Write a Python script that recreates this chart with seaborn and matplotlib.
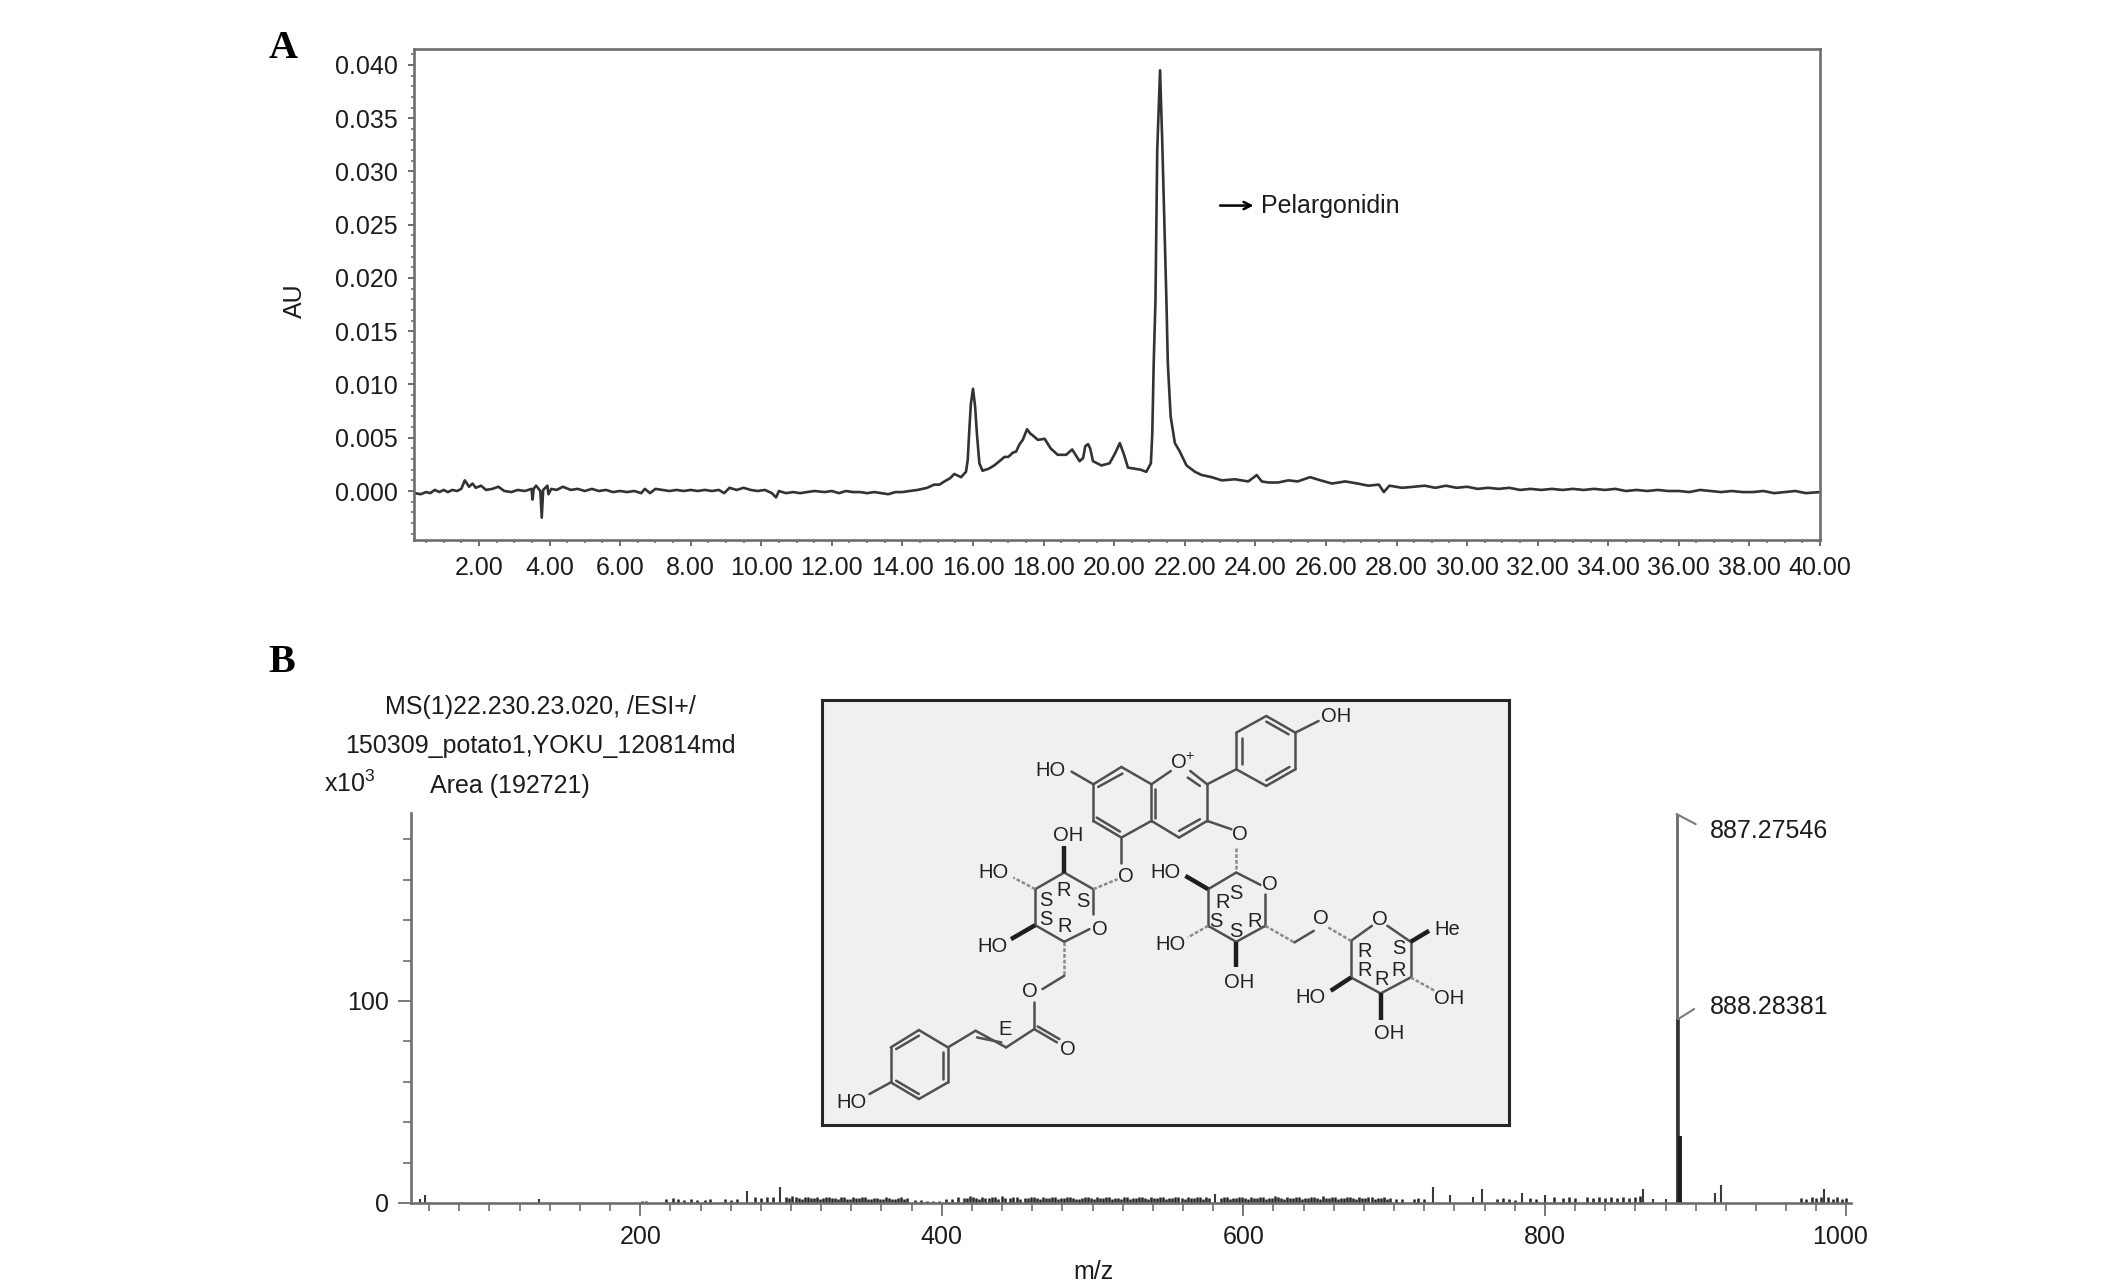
import matplotlib
matplotlib.use("Agg")
import matplotlib.pyplot as plt
from matplotlib.ticker import MultipleLocator, FixedLocator
from matplotlib.transforms import ScaledTranslation
import pandas as pd
import seaborn as sns

# chromatogram (panel A)
rt_min = [0.18, 0.35, 0.5, 0.62, 0.75, 0.88, 1.0, 1.12, 1.25, 1.38, 1.5, 1.6, 1.66, 1.72, 1.82, 1.91, 2.06, 2.2, 2.38, 2.55, 2.72, 2.92, 3.1, 3.3, 3.49, 3.52, 3.55, 3.62, 3.74, 3.78, 3.82, 3.94, 3.97, 4.05, 4.2, 4.38,
          4.6, 4.8, 5.0, 5.2, 5.4, 5.6, 5.8, 6.0, 6.2, 6.4, 6.6, 6.7, 6.85, 7.0, 7.2, 7.4, 7.6, 7.8, 8.0, 8.2, 8.4, 8.6, 8.8, 8.95, 9.1, 9.3, 9.5, 9.7, 9.9, 10.1, 10.3, 10.42, 10.5, 10.7, 10.9, 11.1, 11.3, 11.5, 11.8, 12.0, 12.2, 12.4, 12.6, 12.8, 13.0, 13.2, 13.4, 13.6, 13.8, 14.0, 14.2,
          14.43, 14.7, 14.9, 15.05, 15.19, 15.35, 15.47, 15.66, 15.8, 15.85, 15.9, 15.94, 16.0, 16.06, 16.11, 16.18, 16.27, 16.45, 16.6, 16.75, 16.89, 17.0, 17.13, 17.22, 17.32, 17.41, 17.53, 17.62, 17.7, 17.84, 18.03, 18.2, 18.4, 18.64, 18.81, 19.02, 19.12, 19.18, 19.26, 19.32, 19.4, 19.64, 19.87, 20.02, 20.16, 20.28, 20.39, 20.58, 20.75, 20.91, 21.04, 21.08, 21.12, 21.17, 21.22, 21.3, 21.36, 21.48, 21.52, 21.6, 21.72, 21.86, 22.05, 22.29, 22.48, 22.76, 23.05, 23.42, 23.8, 24.04, 24.18, 24.37, 24.65, 24.94, 25.2, 25.55, 25.85, 26.17, 26.55, 26.9, 27.2, 27.5, 27.64, 27.8, 28.16,
          28.5, 28.8, 29.1, 29.4, 29.7, 30.0, 30.3, 30.6, 30.9, 31.2, 31.5, 31.8, 32.1, 32.4, 32.7, 33.0, 33.3, 33.6, 33.9, 34.2, 34.5, 34.8, 35.1, 35.4, 35.7, 36.0, 36.3, 36.6, 36.9, 37.2, 37.5, 37.8, 38.1, 38.4, 38.7, 39.0, 39.3, 39.6, 40.0]
au = [-0.0002, -0.0003, -0.0001, -0.0002, 0.0001, -0.0001, 0.0001, -0.0001, 0.0001, 0.0, 0.0002, 0.0010, 0.0007, 0.0004, 0.0007, 0.0003, 0.0005, 0.0001, 0.0002, 0.0004, 0.0, -0.0001, 0.0001, 0.0, 0.0002, -0.0008, 0.0002, 0.0005, 0.0, -0.0025, 0.0001, 0.0005, -0.0003, 0.0002, 0.0001, 0.0004,
      0.0001, 0.0002, 0.0, 0.0002, 0.0, 0.0001, -0.0001, 0.0, -0.0001, 0.0, -0.0002, 0.0002, -0.0002, 0.0002, 0.0001, 0.0, 0.0001, 0.0, 0.0001, 0.0, 0.0001, 0.0, 0.0001, -0.0002, 0.0003, 0.0001, 0.0003, 0.0001, 0.0, 0.0001, -0.0002, -0.0006, 0.0, -0.0002, -0.0001, -0.0002, -0.0001, 0.0, -0.0001, 0.0, -0.0002, 0.0, -0.0001, -0.0001, -0.0002, -0.0001, -0.0002, -0.0003, -0.0001, -0.0001, 0.0,
      0.0001, 0.0003, 0.0006, 0.0006, 0.0009, 0.0012, 0.0016, 0.0013, 0.0018, 0.0029, 0.0060, 0.0082, 0.0096, 0.0079, 0.0054, 0.0026, 0.0019, 0.0021, 0.0024, 0.0028, 0.0032, 0.0032, 0.0036, 0.0037, 0.0044, 0.0048, 0.0058, 0.0054, 0.0052, 0.0048, 0.0049, 0.0040, 0.0034, 0.0034, 0.0039, 0.0028, 0.0031, 0.0042, 0.0044, 0.0040, 0.0028, 0.0024, 0.0026, 0.0035, 0.0045, 0.0034, 0.0022, 0.0021, 0.0020, 0.0018, 0.0026, 0.0054, 0.0120, 0.0179, 0.0320, 0.0395, 0.0330, 0.0179, 0.0120, 0.0070, 0.0045, 0.0037, 0.0024, 0.0018, 0.0015, 0.0013, 0.0010, 0.0011, 0.0009, 0.0015, 0.0009, 0.0008, 0.0008, 0.0010, 0.0009, 0.0013, 0.0010, 0.0007, 0.0009, 0.0007, 0.0005, 0.0006, -0.0001, 0.0005, 0.0003,
      0.0004, 0.0005, 0.0003, 0.0005, 0.0003, 0.0004, 0.0002, 0.0003, 0.0002, 0.0003, 0.0001, 0.0002, 0.0001, 0.0002, 0.0001, 0.0002, 0.0001, 0.0002, 0.0001, 0.0002, 0.0, 0.0001, 0.0, 0.0001, 0.0, 0.0, -0.0001, 0.0001, 0.0, -0.0001, 0.0, -0.0001, -0.0001, 0.0, -0.0002, -0.0001, 0.0, -0.0002, -0.0001]

# mass spectrum (panel B), x10^3 counts
mz_main = [887.3, 888.3, 889.3]
int_main = [192.5, 91.0, 33.0]
mz_spikes = [54, 57, 133, 271, 293, 581, 726, 737, 752, 758, 785, 800, 865, 872, 880, 913, 917, 985]
int_spikes = [2, 4, 2, 6, 8, 4.5, 8, 4, 3, 7, 5, 4, 7, 2, 2, 5, 9, 7]
mz_noise = [201, 204, 217, 222, 225, 229, 234, 238, 243, 246,
            256, 260, 264, 276, 280, 284, 288, 297, 301, 305,
            309, 313, 317, 321, 325, 329, 333, 337, 341, 345,
            349, 353, 357, 361, 365, 369, 373, 377, 382, 386,
            390, 394, 398, 403, 407, 411, 415, 419, 423, 427,
            431, 435, 440, 445, 450, 455, 459, 463, 467, 471,
            475, 479, 483, 487, 491, 495, 499, 503, 507, 511,
            515, 519, 523, 527, 531, 535, 539, 543, 547, 551,
            555, 559, 563, 567, 571, 575, 585, 589, 593, 597,
            601, 605, 609, 613, 617, 621, 625, 629, 633, 637,
            641, 645, 649, 653, 657, 661, 665, 669, 673, 677,
            681, 685, 689, 693, 697, 701, 705, 713, 716, 720,
            768, 772, 776, 780, 790, 794, 806, 812, 816, 820,
            828, 832, 836, 840, 844, 848, 852, 856, 860, 863,
            970, 973, 977, 980, 983, 988, 991, 994, 997, 1000]
int_noise = [1, 1, 2, 2.5, 2, 1.5, 2, 1.5, 1.5, 2,
             2, 1.5, 2, 3, 2.5, 3, 3, 3, 3.5, 2.5,
             3, 2.5, 3, 2.5, 3, 2.5, 3, 2, 3, 2.5,
             3, 2, 2.5, 2, 2.5, 2, 3, 2.5, 1.5, 1.5,
             1, 1, 1, 2, 2, 3, 2.5, 3.5, 2.5, 3,
             2.5, 3, 3.5, 2.5, 3, 2.5, 3, 2.5, 3, 2.5,
             3, 2.5, 3, 2.5, 2, 3, 2.5, 3, 2.5, 3,
             2.5, 2, 3, 2.5, 3, 2.5, 3, 2.5, 3, 2.5,
             3, 2.5, 3, 2.5, 3, 3, 2.5, 3, 2.5, 3,
             2.5, 3, 2.5, 3, 2.5, 3.5, 2.5, 3, 2.5, 3,
             2.5, 3, 2.5, 3.5, 2.5, 3, 2.5, 3, 2.5, 3,
             2.5, 3, 2.5, 3, 2.5, 2, 2, 2, 2.5, 2,
             2, 2.5, 2, 1.5, 2.5, 2, 3, 2.5, 3, 2.5,
             3, 2.5, 3, 2.5, 3, 2.5, 3, 2.5, 3, 3.5,
             2.5, 2, 3, 2.5, 3, 3, 2, 3, 2, 2.5]
mz_fill = [299, 303, 307, 311, 315, 319, 323, 327, 331, 335,
           339, 343, 347, 351, 355, 359, 363, 367, 371, 375,
           417, 421, 425, 429, 433, 437, 442, 447, 452, 457,
           461, 465, 469, 473, 477, 481, 485, 489, 493, 497,
           501, 505, 509, 513, 517, 521, 525, 529, 533, 537,
           541, 545, 549, 553, 557, 561, 565, 569, 573, 577,
           587, 591, 595, 599, 603, 607, 611, 615, 619, 623,
           627, 631, 635, 639, 643, 647, 651, 655, 659, 663,
           667, 671, 675, 679, 683, 687, 691, 695]
int_fill = [2.5, 3, 2, 3, 2.5, 2, 3, 2.5, 2, 3,
            2, 2.5, 3, 2, 2.5, 2, 3, 2, 2.5, 2,
            2.5, 3, 2, 2.5, 3, 2, 2.5, 3, 2, 2.5,
            3, 2, 2.5, 3, 2, 2.5, 3, 2, 2.5, 3,
            2, 2.5, 3, 2, 2.5, 3, 2, 2.5, 3, 2,
            2.5, 3, 2, 2.5, 3, 2, 2.5, 3, 2, 2.5,
            3, 2, 2.5, 3, 2, 2.5, 3, 2, 2.5, 3,
            2, 2.5, 3, 2, 2.5, 3, 2, 2.5, 3, 2,
            2.5, 3, 2, 2.5, 3, 2, 2.5, 2]
peak_names = ["887.27546", "888.28381"]
leader_mz = [900, 899]
leader_int = [187.5, 96]
peak_text_mz = [909.5, 909.5]
peak_text_int = [184.3, 96.8]

a_xticks = [2, 4, 6, 8, 10, 12, 14, 16, 18, 20, 22, 24, 26, 28, 30, 32, 34, 36, 38, 40]
a_yticks = [0.0, 0.005, 0.01, 0.015, 0.02, 0.025, 0.03, 0.035, 0.04]

# structure drawing, coordinates in the inset's own frame
solid_bonds = [
    (663, 258, 725, 310), (725, 310, 725, 420), (725, 420, 663, 470), (663, 470, 605, 420), (605, 420, 605, 310), (605, 310, 663, 258),
    (665, 278, 615, 318), (612, 410, 660, 452), (733, 325, 733, 410),
    (725, 310, 765, 270), (805, 270, 840, 310), (800, 290, 825, 315), (840, 310, 840, 420), (840, 420, 782, 470), (825, 415, 782, 450), (782, 470, 725, 420),
    (840, 310, 900, 265), (900, 265, 900, 155), (900, 155, 962, 105), (962, 105, 1022, 155), (1022, 155, 1022, 265), (1022, 265, 962, 315), (962, 315, 900, 265),
    (912, 250, 912, 170), (962, 122, 1008, 160), (1010, 258, 962, 298), (1022, 155, 1070, 120), (560, 272, 605, 310),
    (663, 470, 663, 545), (840, 420, 890, 445),
    (605, 625, 545, 575), (545, 575, 485, 625), (485, 625, 485, 733), (485, 733, 545, 783), (545, 783, 597, 745), (605, 625, 605, 700),
    (545, 885, 500, 925), (483, 965, 483, 1045), (483, 1045, 530, 1085), (490, 1037, 535, 1075), (483, 1045, 425, 1100), (425, 1100, 362, 1050), (415, 1085, 365, 1070), (362, 1050, 305, 1100),
    (305, 1100, 245, 1048), (245, 1048, 187, 1100), (187, 1100, 187, 1205), (187, 1205, 245, 1255), (245, 1255, 305, 1205), (305, 1205, 305, 1100),
    (245, 1065, 198, 1105), (198, 1200, 245, 1240), (295, 1115, 295, 1195), (187, 1205, 143, 1240),
    (900, 575, 842, 625), (842, 625, 842, 735), (842, 735, 900, 783), (900, 783, 960, 735), (960, 735, 960, 640), (900, 575, 950, 612),
    (1020, 785, 1060, 750), (1137, 780, 1137, 890), (1137, 890, 1198, 938), (1198, 938, 1260, 890), (1260, 890, 1260, 783), (1260, 783, 1212, 735), (1180, 735, 1137, 780),
]
wedge_bonds = [(545, 575, 545, 495), (485, 733, 435, 775), (842, 625, 795, 585), (900, 783, 900, 860), (1260, 783, 1298, 750), (1137, 890, 1095, 930), (1198, 938, 1198, 1018)]
dashed_bonds = [(485, 625, 440, 590), (605, 625, 655, 595), (545, 783, 545, 885), (900, 565, 900, 500), (842, 735, 800, 770), (960, 735, 1020, 785), (1090, 740, 1137, 780), (1260, 890, 1310, 930)]
atom_labels = [("OH", 1107, 108), ("O$^{+}$", 790, 245), ("HO", 516, 268), ("O", 672, 588), ("O", 908, 460), ("OH", 552, 465), ("HO", 400, 575), ("O", 618, 745), ("HO", 397, 798),
               ("O", 474, 932), ("O", 553, 1105), ("E", 422, 1045), ("HO", 105, 1265), ("O", 970, 610), ("HO", 755, 575), ("HO", 765, 790), ("OH", 905, 905), ("O", 1075, 712), ("O", 1196, 715),
               ("He", 1335, 745), ("HO", 1053, 950), ("OH", 1215, 1057), ("OH", 1340, 952),
               ("R", 544, 628), ("S", 508, 660), ("S", 584, 663), ("S", 508, 715), ("R", 546, 738), ("S", 900, 637), ("R", 872, 665), ("S", 858, 722), ("S", 900, 752), ("R", 937, 722),
               ("R", 1165, 812), ("S", 1235, 802), ("R", 1165, 870), ("R", 1200, 895), ("R", 1235, 868)]

sns.set_theme(style="white")
plt.rcParams["font.family"] = ["Liberation Sans", "DejaVu Sans"]
plt.rcParams["mathtext.fontset"] = "custom"
plt.rcParams["mathtext.rm"] = "Liberation Sans"
W, H = 2126, 1288
AXC = "#6e6e6e"
INK = "#1c1c1c"
FS = 18

fig = plt.figure(figsize=(W / 100, H / 100), dpi=100, facecolor="white")


def box(left, top, right, bottom):
    return [left / W, 1 - bottom / H, (right - left) / W, (bottom - top) / H]


def label(x, y, s, **kw):
    kw.setdefault("ha", "center")
    kw.setdefault("va", "center")
    kw.setdefault("fontsize", FS)
    kw.setdefault("color", INK)
    fig.text(x / W, 1 - y / H, s, **kw)


# panel A
ax_a = fig.add_axes(box(414, 49, 1820, 540))
df = pd.DataFrame({"rt": rt_min, "au": au})
sns.lineplot(data=df, x="rt", y="au", estimator=None, sort=False, color="#333333", linewidth=1.9, ax=ax_a)
ax_a.set_xlim(0.16, 40)
ax_a.set_ylim(-0.0046, 0.0415)
ax_a.set_xlabel("")
ax_a.set_ylabel("")
ax_a.set_xticks(a_xticks)
ax_a.set_xticklabels([f"{v:.2f}" for v in a_xticks])
ax_a.set_yticks(a_yticks)
ax_a.set_yticklabels([f"{v:.3f}" for v in a_yticks])
ax_a.xaxis.set_minor_locator(MultipleLocator(0.5))
ax_a.yaxis.set_minor_locator(MultipleLocator(0.001))
ax_a.tick_params(axis="both", which="major", direction="out", bottom=True, left=True, length=4.5, width=1.4, color=AXC, labelsize=FS, labelcolor=INK, pad=7)
ax_a.tick_params(axis="both", which="minor", direction="out", bottom=True, left=True, length=2.2, width=1.2, color=AXC)
for s in ax_a.spines.values():
    s.set_color(AXC)
    s.set_linewidth(1.9)
ax_a.annotate("", xy=(23.95, 0.0268), xytext=(23.0, 0.0268), arrowprops=dict(arrowstyle="->", color="black", lw=1.8, shrinkA=0, shrinkB=0, mutation_scale=13))
ax_a.text(24.17, 0.0268, "Pelargonidin", fontsize=FS, color=INK, va="center", ha="left")

# panel B
ax_b = fig.add_axes(box(411, 813, 1851, 1203))
ax_b.patch.set_alpha(0)
ax_b.vlines(mz_noise, 0, int_noise, color="#262626", linewidth=1.8)
ax_b.vlines(mz_fill, 0, int_fill, color="#262626", linewidth=1.8)
ax_b.vlines(mz_spikes, 0, int_spikes, color="#3a3a3a", linewidth=1.5)
ax_b.vlines(mz_main[0], 0, int_main[0], color="#6a6a6a", linewidth=2.0)
ax_b.vlines(mz_main[1], 0, int_main[1], color="#333333", linewidth=2.6)
ax_b.vlines(mz_main[2], 0, int_main[2], color="#1c1c1c", linewidth=2.8)
ax_b.set_xlim(48, 1003)
ax_b.set_ylim(0, 193)
ax_b.set_xticks([200, 400, 600, 800, 1000])
ax_b.set_xticklabels(["200", "400", "600", "800", "1000"])
ax_b.xaxis.set_minor_locator(FixedLocator([v for v in range(60, 1001, 20) if v % 200 != 0]))
ax_b.set_yticks([0, 100])
ax_b.set_yticklabels(["0", "100"])
ax_b.yaxis.set_minor_locator(MultipleLocator(20))
ax_b.tick_params(axis="both", which="major", direction="out", bottom=True, left=True, length=9.5, width=1.3, color=AXC, labelsize=FS, labelcolor=INK, pad=6)
ax_b.tick_params(axis="both", which="minor", direction="out", bottom=True, left=True, length=6, width=1.2, color=AXC)
# the 1000 label sits a little left of its tick in the original
last = ax_b.get_xticklabels()[-1]
last.set_transform(last.get_transform() + ScaledTranslation(-6 / 100, 0, fig.dpi_scale_trans))
for side in ["top", "right"]:
    ax_b.spines[side].set_visible(False)
for side in ["left", "bottom"]:
    ax_b.spines[side].set_color(AXC)
    ax_b.spines[side].set_linewidth(1.9)
for m, i, lm, li, tm, ti, name in zip(mz_main[:2], int_main[:2], leader_mz, leader_int, peak_text_mz, peak_text_int, peak_names):
    ax_b.plot([m, lm], [i, li], color="#7a7a7a", linewidth=1.5, clip_on=False)
    ax_b.text(tm, ti, name, fontsize=FS, color=INK, va="center", ha="left")

# inset with the structure
ax_s = fig.add_axes(box(822, 700, 1509, 1125), facecolor="#f0f0f0")
ax_s.set_xlim(45, 1463)
ax_s.set_ylim(1333, 57)
ax_s.set_xticks([])
ax_s.set_yticks([])
for s in ax_s.spines.values():
    s.set_color("#262626")
    s.set_linewidth(2.2)
for x0, y0, x1, y1 in solid_bonds:
    ax_s.plot([x0, x1], [y0, y1], color="#505050", linewidth=1.8, solid_capstyle="round")
for x0, y0, x1, y1 in wedge_bonds:
    ax_s.plot([x0, x1], [y0, y1], color="#1e1e1e", linewidth=3.2, solid_capstyle="butt")
for x0, y0, x1, y1 in dashed_bonds:
    ax_s.plot([x0, x1], [y0, y1], color="#8a8a8a", linewidth=1.8, linestyle=(0, (1.5, 0.8)))
for s, x, y in atom_labels:
    ax_s.text(x, y, s, fontsize=14.5, color="#222222", ha="center", va="center")

# figure level texts
label(283, 49, "A", family="Liberation Serif", fontweight="bold", fontsize=29, color="black")
label(282, 663, "B", family="Liberation Serif", fontweight="bold", fontsize=29, color="black")
label(295, 301, "AU", rotation=90)
label(540, 707, "MS(1)22.230.23.020, /ESI+/")
label(540, 746, "150309_potato1,YOKU_120814md")
label(510, 786, "Area (192721)")
label(350, 784, "x10$^{3}$")
label(1093, 1272, "m/z")

fig.savefig("out.png", dpi=100, facecolor="white")
